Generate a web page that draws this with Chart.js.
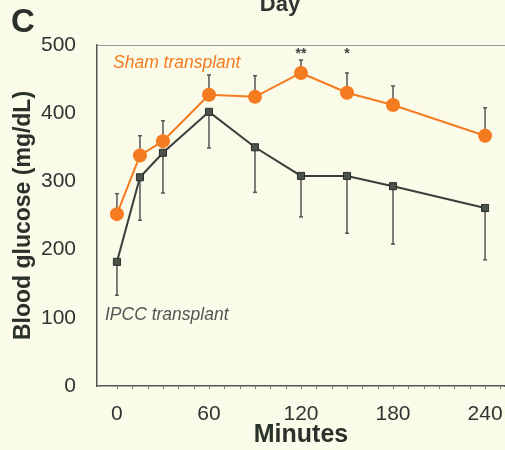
<!DOCTYPE html>
<html>
<head>
<meta charset="utf-8">
<script src="https://cdn.jsdelivr.net/npm/chart.js@4"></script>
<style>
  html, body { margin: 0; padding: 0; background: #fbfbe9; overflow: hidden; }
  #wrap { width: 505px; height: 450px; position: relative; overflow: hidden; }
</style>
</head>
<body>
<div id="wrap"><canvas id="myChart"></canvas></div>
<script>
// Data (mean, one-sided SEM bar)
const minutes = [0, 15, 30, 60, 90, 120, 150, 180, 240];
const shamMean = [252, 338, 359, 427, 424, 459, 430, 412, 367];
const shamErr = [30, 29, 30, 29, 31, 19, 29, 28, 41];   // drawn upward
const ipccMean = [182, 306, 342, 402, 350, 308, 308, 293, 261];
const ipccErr = [49, 63, 59, 53, 66, 60, 84, 85, 76];   // drawn downward
const xTicks = [0, 60, 120, 180, 240];
const yTicks = [0, 100, 200, 300, 400, 500];
const stars = [{ x: 120, text: '**' }, { x: 150, text: '*' }];

const orange = '#f47b20';
const dark = '#3b3f3b';
const font = '"Liberation Sans", Arial, sans-serif';

// background, frame, error bars, text labels
const extras = {
    id: 'extras',
    beforeDraw: function(chart) {
        const c = chart.ctx;
        c.save();
        c.fillStyle = '#fbfbe9';
        c.fillRect(0, 0, chart.width, chart.height);
        c.restore();
    },
    beforeDatasetsDraw: function(chart) {
        const c = chart.ctx;
        const xs = chart.scales.x, ys = chart.scales.y;
        const a = chart.chartArea;
        c.save();
        // top frame line, and axis line carried to the edge
        c.strokeStyle = '#999';
        c.lineWidth = 1;
        c.beginPath(); c.moveTo(a.left, a.top + 0.5); c.lineTo(chart.width, a.top + 0.5); c.stroke();
        c.strokeStyle = '#555';
        c.lineWidth = 1.5;
        c.beginPath(); c.moveTo(a.right - 1, a.bottom); c.lineTo(chart.width, a.bottom); c.stroke();
        // small minor ticks on x axis every 10 min
        c.strokeStyle = '#777';
        c.lineWidth = 1;
        for (let m = 0; m <= 250; m += 10) {
            const px = Math.round(xs.getPixelForValue(m)) + 0.5;
            c.beginPath(); c.moveTo(px, a.bottom); c.lineTo(px, a.bottom + 3); c.stroke();
        }
        c.strokeStyle = '#555';
        c.lineWidth = 1.5;
        minutes.forEach(function(m, i) {
            const px = xs.getPixelForValue(m);
            // sham: up
            let y0 = ys.getPixelForValue(shamMean[i]);
            let y1 = ys.getPixelForValue(shamMean[i] + shamErr[i]);
            c.beginPath(); c.moveTo(px, y0); c.lineTo(px, y1); c.stroke();
            c.beginPath(); c.moveTo(px - 2, y1); c.lineTo(px + 2, y1); c.stroke();
            // ipcc: down
            y0 = ys.getPixelForValue(ipccMean[i]);
            y1 = ys.getPixelForValue(ipccMean[i] - ipccErr[i]);
            c.beginPath(); c.moveTo(px, y0); c.lineTo(px, y1); c.stroke();
            c.beginPath(); c.moveTo(px - 2, y1); c.lineTo(px + 2, y1); c.stroke();
        });
        c.restore();
    },
    afterDraw: function(chart) {
        const c = chart.ctx;
        const xs = chart.scales.x;
        c.save();
        c.textAlign = 'left';
        c.textBaseline = 'alphabetic';
        c.fillStyle = '#2a302a';
        c.font = 'bold 33px ' + font;
        c.fillText('C', 11, 32);
        c.textAlign = 'center';
        c.fillStyle = '#333';
        c.font = 'bold 22px ' + font;
        c.fillText('Day', 280, 11);

        c.textBaseline = 'middle';
        c.font = 'italic 17.5px ' + font;
        c.textAlign = 'left';
        c.fillStyle = orange;
        c.fillText('Sham transplant', 113, 63);
        c.fillStyle = '#555';
        c.fillText('IPCC transplant', 105, 315);

        c.fillStyle = '#444';
        c.textAlign = 'center';
        c.font = 'bold 14px ' + font;
        stars.forEach(function(s) {
            c.fillText(s.text, xs.getPixelForValue(s.x), 54);
        });
        c.restore();
    }
};

new Chart(document.getElementById('myChart'), {
    type: 'line',
    data: {
        datasets: [{
            label: 'Sham transplant',
            data: minutes.map(function(m, i) { return { x: m, y: shamMean[i] }; }),
            borderColor: orange,
            backgroundColor: orange,
            borderWidth: 2,
            pointStyle: 'circle',
            pointRadius: 7,
            pointBorderWidth: 0
        }, {
            label: 'IPCC transplant',
            data: minutes.map(function(m, i) { return { x: m, y: ipccMean[i] }; }),
            borderColor: dark,
            backgroundColor: '#4a524a',
            borderWidth: 2,
            pointStyle: 'rect',
            pointRadius: 5,
            pointBorderColor: '#2b2e2b',
            pointBorderWidth: 1
        }]
    },
    options: {
        responsive: true,
        maintainAspectRatio: false,
        animation: false,
        layout: { autoPadding: false, padding: { top: 45, right: 0, left: 0, bottom: 0 } },
        plugins: {
            legend: { display: false },
            tooltip: { enabled: false }
        },
        scales: {
            x: {
                type: 'linear',
                min: -13,
                max: 253,
                afterBuildTicks: function(axis) {
                    axis.ticks = xTicks.map(function(v) { return { value: v }; });
                },
                afterFit: function(axis) { axis.height = 64; },
                // label gap comes from tickLength so the side padding stays small
                grid: { display: false, drawTicks: true, tickLength: 16 },
                border: { display: true, color: '#555', width: 1.5 },
                ticks: {
                    padding: 0,
                    color: '#333',
                    font: { family: font, size: 21 },
                    maxRotation: 0
                },
                title: {
                    display: true,
                    text: 'Minutes',
                    color: '#2a302a',
                    padding: { top: 0, bottom: 0 },
                    font: { family: font, size: 25, weight: 'bold' }
                }
            },
            y: {
                min: 0,
                max: 500,
                afterBuildTicks: function(axis) {
                    axis.ticks = yTicks.map(function(v) { return { value: v }; });
                },
                afterFit: function(axis) { axis.width = 97; },
                grid: { display: false },
                border: { display: true, color: '#555', width: 1.5 },
                ticks: {
                    padding: 13,
                    color: '#333',
                    font: { family: font, size: 21 }
                },
                title: {
                    display: true,
                    text: 'Blood glucose (mg/dL)',
                    color: '#2a302a',
                    padding: { top: 10, bottom: 0 },
                    font: { family: font, size: 23, weight: 'bold' }
                }
            }
        }
    },
    plugins: [extras]
});
</script>
</body>
</html>
